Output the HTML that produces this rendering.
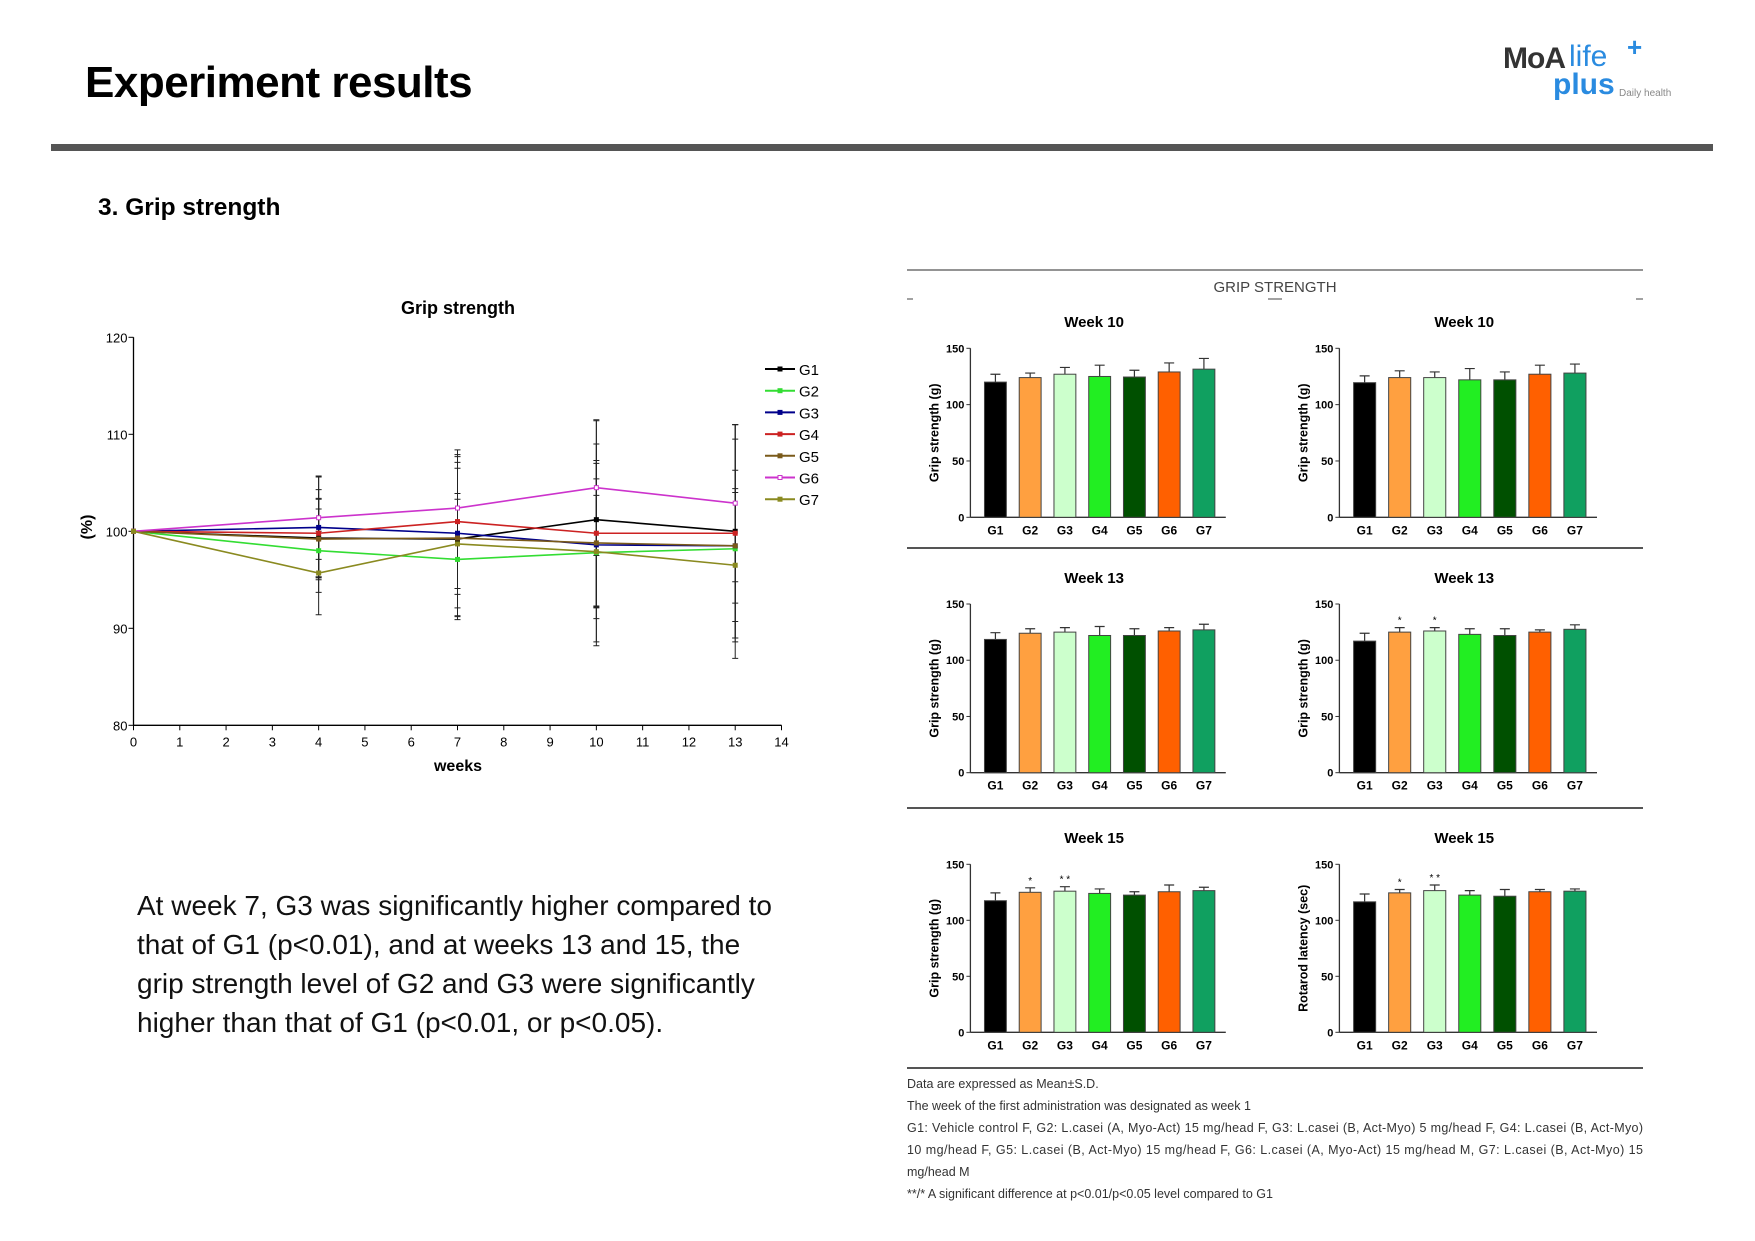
<!DOCTYPE html>
<html><head><meta charset="utf-8">
<style>
body{margin:0;width:1755px;height:1241px;background:#fff;position:relative;overflow:hidden;font-family:"Liberation Sans",sans-serif;}
.abs{position:absolute;}
</style></head>
<body>
<div class="abs" style="left:85px;top:58px;font-size:44px;font-weight:bold;letter-spacing:-0.5px;">Experiment results</div>
<div class="abs" style="left:1503px;top:42px;width:180px;height:70px;">
  <span class="abs" style="left:0;top:0;font-size:30px;font-weight:bold;color:#333;letter-spacing:-1px;">MoA</span>
  <span class="abs" style="left:66px;top:-2px;font-size:30px;color:#2a8be0;">life</span>
  <span class="abs" style="left:124px;top:-10px;font-size:26px;font-weight:bold;color:#2a8be0;">+</span>
  <span class="abs" style="left:50px;top:26px;font-size:30px;font-weight:bold;color:#2a8be0;">plus</span>
  <span class="abs" style="left:116px;top:46px;font-size:10px;color:#888;">Daily health</span>
</div>
<div class="abs" style="left:51px;top:144px;width:1662px;height:7px;background:#555;"></div>
<div class="abs" style="left:98px;top:194px;font-size:24.5px;font-weight:bold;">3. Grip strength</div>
<div class="abs" style="left:137px;top:886px;width:760px;font-size:28px;line-height:39px;color:#111;white-space:nowrap;">At week 7, G3 was significantly higher compared to<br>that of G1 (p&lt;0.01), and at weeks 13 and 15, the<br>grip strength level of G2 and G3 were significantly<br>higher than that of G1 (p&lt;0.01, or p&lt;0.05).</div>

<svg class="abs" style="left:0;top:0" width="1755" height="1241" id="chart" font-family="Liberation Sans, sans-serif"></svg>

<script>
// ---- line chart data ----
const weeks = [0, 4, 7, 10, 13];
const groupNames = ["G1","G2","G3","G4","G5","G6","G7"];
const g1 = [100, 99.3, 99.2, 101.2, 100.0];
const g2 = [100, 98.0, 97.1, 97.8, 98.2];
const g3 = [100, 100.4, 99.8, 98.6, 98.5];
const g4 = [100, 99.8, 101.0, 99.8, 99.8];
const g5 = [100, 99.2, 99.3, 98.8, 98.5];
const g6 = [100, 101.4, 102.4, 104.5, 102.9];
const g7 = [100, 95.7, 98.7, 97.9, 96.5];
const sd1 = [0, 4.0, 7.9, 10.2, 11.0];
const sd2 = [0, 4.3, 6.2, 9.2, 11.3];
const sd3 = [0, 5.2, 8.6, 10.4, 7.8];
const sd4 = [0, 4.5, 6.9, 7.5, 11.2];
const sd5 = [0, 4.2, 7.2, 6.6, 5.9];
const sd6 = [0, 4.3, 5.3, 7.0, 8.1];
const sd7 = [0, 4.3, 5.2, 5.8, 7.5];
const xTicks = [0,1,2,3,4,5,6,7,8,9,10,11,12,13,14];
const yTicks = [80, 90, 100, 110, 120];

// ---- bar chart data ----
const barCats = ["G1","G2","G3","G4","G5","G6","G7"];
const barTicks = [0, 50, 100, 150];
const w10a = [120, 124, 127, 125, 124.5, 129, 131.5];
const w10aSd = [7, 4, 6, 10, 6, 8, 9.5];
const w10b = [119.5, 124, 124, 122, 122, 127, 128];
const w10bSd = [6, 6, 5, 10, 7, 8, 8];
const w13a = [118.5, 124, 125, 122, 122, 126, 127];
const w13aSd = [6, 4, 4, 8, 6, 3, 5];
const w13b = [117, 125, 126, 123, 122, 125, 127.5];
const w13bSd = [7, 4, 3, 5, 6, 2, 4];
const w13bSig = ["", "*", "*", "", "", "", ""];
const w15a = [117.5, 125, 126, 124, 122.5, 125.5, 126.5];
const w15aSd = [7, 4, 4, 4, 3, 6, 3];
const w15aSig = ["", "*", "* *", "", "", "", ""];
const w15b = [116.5, 124.5, 126.5, 122.5, 121.5, 125.5, 126];
const w15bSd = [7, 3, 5, 4, 6, 2, 2];
const w15bSig = ["", "*", "* *", "", "", "", ""];

const svg = document.getElementById('chart');
const NS = 'http://www.w3.org/2000/svg';
function mk(tag, attrs, parent){ const e=document.createElementNS(NS,tag); for(const k in attrs) e.setAttribute(k,attrs[k]); (parent||svg).appendChild(e); return e; }
function txt(s, attrs, parent){ const e=mk('text',attrs,parent); e.textContent=s; return e; }

// ---------- line chart ----------
const lc = mk('g',{});


const X0=133.5, X1=781.5, Y0=725.3, Y1=337.3;
const xs = w => X0 + (w-0)/(14-0)*(X1-X0);
const ys = v => Y0 - (v-80)/(120-80)*(Y0-Y1);
const t1 = txt('Grip strength',{x:458,y:314,'text-anchor':'middle','font-size':18,'font-weight':'bold'},lc);


mk('line',{x1:X0,y1:Y1,x2:X0,y2:Y0,stroke:'#000','stroke-width':1.3},lc);
mk('line',{x1:X0,y1:Y0,x2:X1,y2:Y0,stroke:'#000','stroke-width':1.3},lc);
xTicks.forEach(t=>{ mk('line',{x1:xs(t),y1:Y0,x2:xs(t),y2:Y0+5,stroke:'#000'},lc);
  const e=txt(String(t),{x:xs(t),y:Y0+21,'text-anchor':'middle','font-size':13},lc);
    });
yTicks.forEach(t=>{ mk('line',{x1:X0-5,y1:ys(t),x2:X0,y2:ys(t),stroke:'#000'},lc);
  const e=txt(String(t),{x:X0-6,y:ys(t)+5,'text-anchor':'end','font-size':13},lc);
    });
const xl=txt('weeks',{x:458,y:771,'text-anchor':'middle','font-size':16,'font-weight':'bold'},lc);
 
const yl=txt('(%)',{x:0,y:0,'text-anchor':'middle','font-size':16,'font-weight':'bold',transform:'translate(92,527) rotate(-90)'},lc);
 

const series=[g1,g2,g3,g4,g5,g6,g7];
const sds=[sd1,sd2,sd3,sd4,sd5,sd6,sd7];
const colors=['#000000','#33dd33','#00008b','#cc2222','#7a5a1a','#cc33cc','#8a8a20'];
series.forEach((s,i)=>{ s.forEach((v,j)=>{ if(sds[i][j]<=0) return; const x=xs(weeks[j]);
  const eb=mk('path',{d:`M${x},${ys(v-sds[i][j])}V${ys(v+sds[i][j])}M${x-3},${ys(v+sds[i][j])}h6M${x-3},${ys(v-sds[i][j])}h6`,stroke:'#222','stroke-width':1,fill:'none'},lc);
    }); });
series.forEach((s,i)=>{
  const p=mk('polyline',{points:s.map((v,j)=>xs(weeks[j])+','+ys(v)).join(' '),fill:'none',stroke:colors[i],'stroke-width':1.6},lc);
   
  s.forEach((v,j)=>{ const m=mk('rect',{x:xs(weeks[j])-2,y:ys(v)-2,width:4,height:4,fill:i==5?'#fff':colors[i],stroke:colors[i]},lc);
      });
  const ly=369+i*21.7;
  const lg=mk('g',{},lc);
  
  
  mk('line',{x1:765,y1:ly,x2:795,y2:ly,stroke:colors[i],'stroke-width':2},lg);
  mk('rect',{x:778,y:ly-2,width:4,height:4,fill:i==5?'#fff':colors[i],stroke:colors[i]},lg);
  txt(groupNames[i],{x:799,y:ly+6,'font-size':15},lg);
});

// ---------- bar panel ----------
const right = mk('g',{});


[270,548,808,1068].forEach((y,i)=>{ const l=mk('line',{x1:907,y1:y,x2:1643,y2:y,stroke:'#555','stroke-width':i==0?1.2:2},right);
    });
const gt=txt('GRIP STRENGTH',{x:1275,y:292,'text-anchor':'middle','font-size':15,fill:'#444'},right);
 
[[907,913],[1268,1282],[1636,1643]].forEach(a=>mk('line',{x1:a[0],y1:299,x2:a[1],y2:299,stroke:'#444'},right));

const barColors=['#000000','#ffa040','#ccffcc','#22ee22','#005000','#ff6000','#10a060'];
function barChart(name,title,ylabel,vals,sdv,sig,axL,axR,yTop,yBot,titleY){
  const g=mk('g',{},right);
  
  
  const ysb=v=>yBot-(v/150)*(yBot-yTop);
  const step=(axR-axL)/7.35;
  const xc=i=>axL+step*(0.72+i);
  const bw=step*0.63;
  txt(title,{x:(axL+axR)/2-4,y:titleY,'text-anchor':'middle','font-size':15,'font-weight':'bold'},g);
  mk('line',{x1:axL,y1:yTop,x2:axL,y2:yBot,stroke:'#333','stroke-width':1.3},g);
  mk('line',{x1:axL,y1:yBot,x2:axR,y2:yBot,stroke:'#333','stroke-width':1.3},g);
  barTicks.forEach(t=>{ mk('line',{x1:axL-4,y1:ysb(t),x2:axL,y2:ysb(t),stroke:'#333'},g);
    txt(String(t),{x:axL-6,y:ysb(t)+4,'text-anchor':'end','font-size':11,'font-weight':'bold'},g); });
  txt(ylabel,{x:0,y:0,'text-anchor':'middle','font-size':12.5,'font-weight':'bold',transform:`translate(${axL-32},${(yTop+yBot)/2}) rotate(-90)`},g);
  vals.forEach((v,i)=>{
    const x=xc(i), top=ysb(v+sdv[i]);
    const eb=mk('path',{d:`M${x},${ysb(v)}V${top}M${x-5},${top}h10`,stroke:'#333','stroke-width':1.2,fill:'none'},g);
     
    const r=mk('rect',{x:x-bw/2,y:ysb(v),width:bw,height:yBot-ysb(v),fill:barColors[i],stroke:'#444','stroke-width':1},g);
     
    txt(barCats[i],{x:x,y:yBot+17,'text-anchor':'middle','font-size':12,'font-weight':'bold'},g);
    if(sig && sig[i]) txt(sig[i],{x:x,y:top-4,'text-anchor':'middle','font-size':10},g);
  });
}
barChart('bar-chart-week10-left','Week 10','Grip strength (g)',w10a,w10aSd,null,970.4,1225.8,348.3,517.3,327);
barChart('bar-chart-week10-right','Week 10','Grip strength (g)',w10b,w10bSd,null,1339.4,1597,348.3,517.3,327);
barChart('bar-chart-week13-left','Week 13','Grip strength (g)',w13a,w13aSd,null,970.4,1225.8,604,772.7,583);
barChart('bar-chart-week13-right','Week 13','Grip strength (g)',w13b,w13bSd,w13bSig,1339.4,1597,604,772.7,583);
barChart('bar-chart-week15-left','Week 15','Grip strength (g)',w15a,w15aSd,w15aSig,970.4,1225.8,864.3,1032.3,843);
barChart('bar-chart-week15-right','Week 15','Rotarod latency (sec)',w15b,w15bSd,w15bSig,1339.4,1597,864.3,1032.3,843);

const notes=["Data are expressed as Mean\u00b1S.D.","The week of the first administration was designated as week 1",
"G1: Vehicle control F, G2: L.casei (A, Myo-Act) 15 mg/head F, G3: L.casei (B, Act-Myo) 5 mg/head F, G4: L.casei (B, Act-Myo)",
"10 mg/head F, G5: L.casei (B, Act-Myo) 15 mg/head F, G6: L.casei (A, Myo-Act) 15 mg/head M, G7: L.casei (B, Act-Myo) 15",
"mg/head M","**/* A significant difference at p<0.01/p<0.05 level compared to G1"];
const ny=[1088,1110,1132,1154,1176,1198];
notes.forEach((n,i)=>{ const e=txt(n,{x:907,y:ny[i],'font-size':12.5,fill:'#333'},right);
  if(i==2||i==3){ e.setAttribute('textLength','736'); e.setAttribute('lengthAdjust','spacing'); }
    });
</script>
</body></html>
